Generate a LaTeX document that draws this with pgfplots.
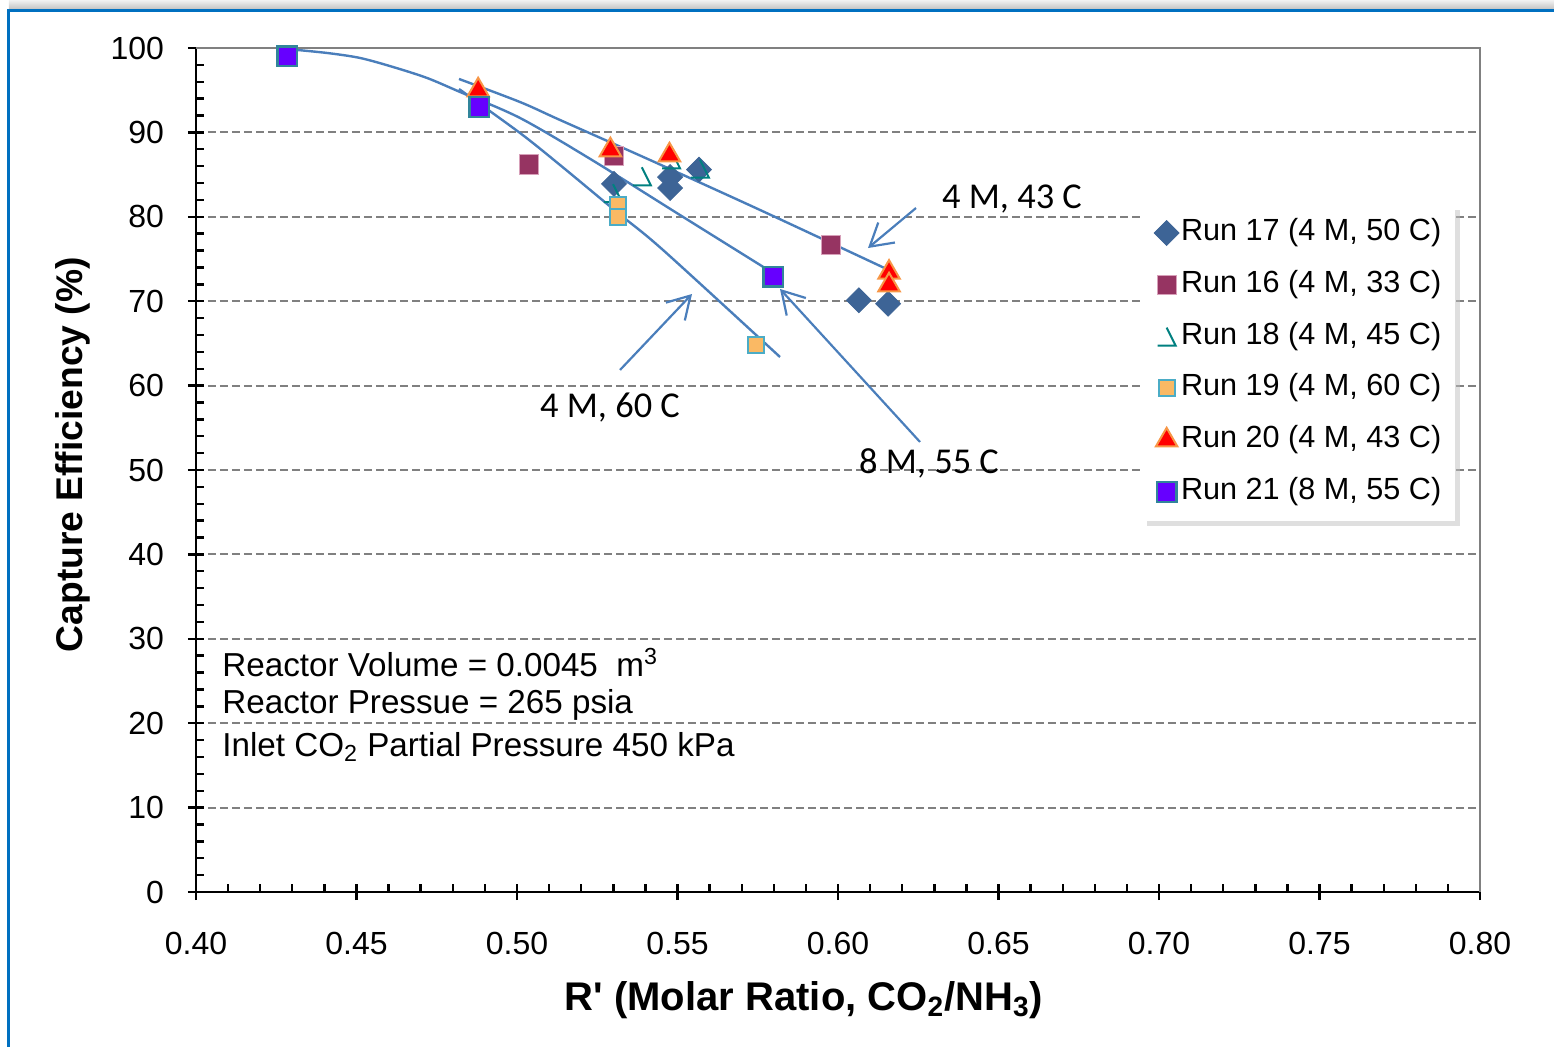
\documentclass[border=0pt]{standalone}
\usepackage{fontspec}
\setmainfont{Liberation Sans}
\newfontfamily\calibri{Carlito}
\usepackage{pgfplots}
\pgfplotsset{compat=1.18}
\usetikzlibrary{arrows.meta,shadows}

\definecolor{c17}{RGB}{61,100,150}
\definecolor{c16}{RGB}{150,52,98}
\definecolor{c16b}{RGB}{215,160,185}
\definecolor{c18}{RGB}{0,128,128}
\definecolor{c19}{RGB}{250,185,100}
\definecolor{c19b}{RGB}{75,172,198}
\definecolor{c20}{RGB}{255,0,0}
\definecolor{c20b}{RGB}{247,150,70}
\definecolor{c21}{RGB}{102,0,255}
\definecolor{c21b}{RGB}{49,133,155}
\definecolor{trend}{RGB}{74,126,187}
\definecolor{gridgray}{RGB}{128,128,128}
\definecolor{frameblue}{RGB}{0,112,192}

\pgfdeclareplotmark{halftri}{%
  \pgfpathmoveto{\pgfqpoint{0pt}{\pgfplotmarksize}}%
  \pgfpathlineto{\pgfqpoint{\pgfplotmarksize}{-\pgfplotmarksize}}%
  \pgfpathlineto{\pgfqpoint{-\pgfplotmarksize}{-\pgfplotmarksize}}%
  \pgfusepathqstroke}

\begin{document}
\begin{tikzpicture}
\useasboundingbox (-98bp,-77.5bp) rectangle (679bp,446bp);
\shade[top color=gray!10, bottom color=gray!55] (-93.5bp,440.5bp) rectangle (679bp,446bp);
\draw[frameblue, line width=1.5bp] (-93.5bp,-77.5bp) -- (-93.5bp,440.5bp) -- (679bp,440.5bp);

\begin{axis}[
  at={(0,0)}, anchor=south west,
  scale only axis, width=642bp, height=422bp,
  xmin=0.4, xmax=0.8, ymin=0, ymax=100,
  clip=false,
  axis x line*=bottom, axis y line*=left,
  axis line style={line width=1.2bp, black, -},
  xtick={0.40,0.45,0.50,0.55,0.60,0.65,0.70,0.75,0.80},
  ytick={0,10,20,30,40,50,60,70,80,90,100},
  minor x tick num=4, minor y tick num=4,
  tick align=center,
  major tick length=8bp, minor tick length=4bp,
  tick style={black, line width=1.2bp},
  every minor x tick/.append style={yshift=2bp},
  every minor y tick/.append style={xshift=2bp},
  ymajorgrids,
  grid style={gridgray, line width=1bp, dash pattern=on 4bp off 2bp},
  /pgf/number format/assume math mode=true,
  tick label style={font=\fontsize{16bp}{19bp}\selectfont},
  xticklabel style={yshift=-12.5bp, /pgf/number format/.cd, fixed, fixed zerofill, precision=2},
  yticklabel style={xshift=-8.5bp},
  xlabel={R\textquotesingle\ (Molar Ratio, CO\textsubscript{2}/NH\textsubscript{3})},
  xlabel style={font=\fontsize{20bp}{24bp}\selectfont\bfseries,
    at={([yshift=-54bp]rel axis cs:0.4735,0)}, anchor=center},
  ylabel={Capture Efficiency (\%)},
  ylabel style={font=\fontsize{18.6bp}{22bp}\selectfont\bfseries,
    at={([xshift=-61.5bp]rel axis cs:0,0.518)}, anchor=center},
  legend style={
    at={(rel axis cs:0.7366,0.8150)}, anchor=north west,
    fill=white, draw=none,
    drop shadow={shadow xshift=2.5bp, shadow yshift=-2.5bp, fill=black!25},
    font=\fontsize{15.3bp}{18bp}\selectfont,
    row sep=9.4bp, inner xsep=6bp, inner ysep=6bp,
    nodes={inner sep=1bp, text height=11bp, text depth=3.5bp},
  },
  legend cell align=left,
  legend image code/.code={\draw[#1] plot coordinates {(0bp,0bp)};},
]
\draw[gridgray, line width=1.2bp] (rel axis cs:0,1) -- (rel axis cs:1,1) -- (rel axis cs:1,0);

\addplot[only marks, mark=square*, mark size=4.4bp,
  mark options={rotate=45, fill=c17, draw=c17, line width=0.4bp}]
  coordinates {(0.5302,83.9) (0.5477,84.7) (0.5477,83.4) (0.5567,85.6) (0.6065,70.1) (0.6156,69.7)};
\addlegendentry{Run 17 (4 M, 50 C)}

\addplot[only marks, mark=square*, mark size=4.8bp,
  mark options={fill=c16, draw=c16b, line width=0.5bp}]
  coordinates {(0.5037,86.2) (0.5302,87.2) (0.5977,76.7)};
\addlegendentry{Run 16 (4 M, 33 C)}

\addplot[only marks, mark=halftri, mark size=4.5bp,
  mark options={draw=c18, line width=1bp}]
  coordinates {(0.5299,82.8) (0.5389,84.8) (0.5480,86.8) (0.5570,85.7)};
\addlegendentry{Run 18 (4 M, 45 C)}

\addplot[only marks, mark=square*, mark size=4bp,
  mark options={fill=c19, draw=c19b, line width=1bp}]
  coordinates {(0.5316,81.4) (0.5316,80.0) (0.5745,64.8)};
\addlegendentry{Run 19 (4 M, 60 C)}

\addplot[only marks, mark=triangle*, mark size=6.2bp,
  mark options={fill=c20, draw=c20b, line width=1bp}]
  coordinates {(0.4879,95.0) (0.5291,87.9) (0.5475,87.3) (0.6159,73.4) (0.6159,71.9)};
\addlegendentry{Run 20 (4 M, 43 C)}

\addplot[only marks, mark=square*, mark size=4.9bp,
  mark options={fill=c21, draw=c21b, line width=1.2bp}]
  coordinates {(0.4285,99.0) (0.4882,93.0) (0.5798,72.9)};
\addlegendentry{Run 21 (8 M, 55 C)}

% trend lines
\addplot[forget plot, trend, line width=1.2bp, smooth, no marks]
  coordinates {(0.42835,99.88) (0.44081,99.41) (0.45109,98.82) (0.46137,97.75) (0.47196,96.45) (0.48224,94.79) (0.50093,91.71) (0.52336,86.73) (0.55078,80.21) (0.57975,73.34)};
\addplot[forget plot, trend, line width=1.2bp, smooth, no marks]
  coordinates {(0.48193,95.14) (0.50093,89.93) (0.51340,86.14) (0.53146,80.45) (0.54548,76.07) (0.58193,63.39)};
\addplot[forget plot, trend, line width=1.2bp, smooth, no marks]
  coordinates {(0.48193,96.33) (0.50093,93.60) (0.51340,91.47) (0.54143,86.73) (0.57570,80.81) (0.61713,73.46)};

% arrows
\draw[trend, line width=1.1bp, -{Straight Barb[length=11bp,width=13bp]}]
  (axis cs:0.6243,81.04) -- (axis cs:0.60935,76.30);
\draw[trend, line width=1.1bp, -{Straight Barb[length=11bp,width=13bp]}]
  (axis cs:0.53209,61.85) -- (axis cs:0.55452,70.85);
\draw[trend, line width=1.1bp, -{Straight Barb[length=11bp,width=13bp]}]
  (axis cs:0.62555,53.32) -- (axis cs:0.58193,71.45);

\node[font=\calibri\fontsize{18.2bp}{22bp}\selectfont, inner sep=0pt] at (axis cs:0.65421,82.11) {4 M, 43 C};
\node[font=\calibri\fontsize{18.2bp}{22bp}\selectfont, inner sep=0pt] at (axis cs:0.52897,57.35) {4 M, 60 C};
\node[font=\calibri\fontsize{18.2bp}{22bp}\selectfont, inner sep=0pt] at (axis cs:0.62835,50.83) {8 M, 55 C};

\node[font=\fontsize{16.6bp}{20bp}\selectfont, anchor=base west, inner sep=0pt] at (axis cs:0.4081,25.5) {Reactor Volume = 0.0045\ \ m\textsuperscript{3}};
\node[font=\fontsize{16.6bp}{20bp}\selectfont, anchor=base west, inner sep=0pt] at (axis cs:0.4081,21.15) {Reactor Pressue = 265 psia};
\node[font=\fontsize{16.6bp}{20bp}\selectfont, anchor=base west, inner sep=0pt] at (axis cs:0.4081,16.1) {Inlet CO\textsubscript{2} Partial Pressure 450 kPa};
\end{axis}
\end{tikzpicture}
\end{document}
